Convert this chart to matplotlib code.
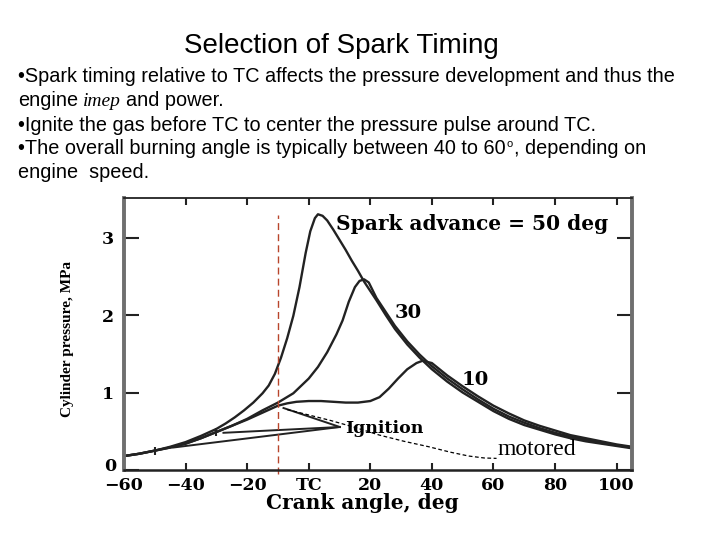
import numpy as np
import matplotlib
matplotlib.use("Agg")
import matplotlib.pyplot as plt
from matplotlib.transforms import ScaledTranslation

# crank angle (deg) and cylinder pressure (MPa)
ca_50 = [-60, -55, -50, -45, -40, -35, -30, -27, -24, -21, -18, -15, -13, -11, -9, -7, -5, -3, -1,
         0.5, 2, 3, 4.5, 6, 8, 10, 12, 14, 16, 18, 20, 22, 25, 28, 32, 36, 40, 45, 50, 55, 60, 65,
         70, 75, 80, 85, 90, 95, 100, 105]
p_50 = [0.18, 0.21, 0.25, 0.30, 0.36, 0.44, 0.53, 0.60, 0.68, 0.77, 0.87, 0.99, 1.09, 1.24, 1.45,
        1.70, 1.99, 2.36, 2.80, 3.08, 3.25, 3.30, 3.28, 3.22, 3.10, 2.97, 2.84, 2.70, 2.57, 2.43,
        2.31, 2.19, 2.00, 1.82, 1.62, 1.45, 1.30, 1.14, 1.00, 0.88, 0.76, 0.66, 0.58, 0.52, 0.46,
        0.41, 0.37, 0.34, 0.31, 0.28]

ca_30 = [-60, -55, -50, -45, -40, -35, -30, -25, -20, -15, -10, -5, 0, 3, 6, 9, 11, 13, 15, 16.5,
         18, 19.5, 22, 25, 28, 32, 36, 40, 45, 50, 55, 60, 65, 70, 75, 80, 85, 90, 95, 100, 105]
p_30 = [0.18, 0.21, 0.25, 0.29, 0.34, 0.41, 0.49, 0.57, 0.66, 0.77, 0.87, 0.99, 1.18, 1.33, 1.52,
        1.75, 1.93, 2.17, 2.36, 2.44, 2.46, 2.42, 2.22, 2.04, 1.86, 1.66, 1.49, 1.34, 1.18, 1.04,
        0.91, 0.79, 0.69, 0.61, 0.54, 0.48, 0.43, 0.39, 0.35, 0.32, 0.29]

ca_10 = [-60, -55, -50, -45, -40, -35, -30, -25, -20, -15, -10, -7, -4, 0, 4, 8, 12, 16, 20, 23,
         26, 29, 32, 35, 37, 40, 45, 50, 55, 60, 65, 70, 75, 80, 85, 90, 95, 100, 105]
p_10 = [0.18, 0.21, 0.25, 0.29, 0.34, 0.41, 0.49, 0.57, 0.65, 0.74, 0.83, 0.86, 0.88, 0.89, 0.89,
        0.88, 0.87, 0.87, 0.89, 0.94, 1.05, 1.18, 1.30, 1.38, 1.41, 1.38, 1.22, 1.08, 0.95, 0.83,
        0.73, 0.64, 0.57, 0.51, 0.45, 0.41, 0.37, 0.33, 0.30]

# ignition points
ign_ca = [-50, -30, -10]
ign_p = [0.25, 0.49, 0.83]
# pointer line ends (from the "Ignition" label)
ptr_ca = [-44, -27.7, -8.2]
ptr_p = [0.29, 0.48, 0.80]
ptr_from = (10.1, 0.555)

# hand-drawn dashed "motored" line
mot_ca = [-7, 0, 7, 15, 23, 31, 39, 46, 52, 57, 61]
mot_p = [0.78, 0.71, 0.64, 0.55, 0.45, 0.37, 0.30, 0.23, 0.18, 0.155, 0.15]

xticks = [-60, -40, -20, 0, 20, 40, 60, 80, 100]
xlabels = ["\u221260", "\u221240", "\u221220", "TC", "20", "40", "60", "80", "100"]
yticks = [0, 1, 2, 3]

W, H = 720, 540
fig = plt.figure(figsize=(7.2, 5.4), dpi=100)
fig.patch.set_facecolor("white")

# ---- slide text ----
sans = "Liberation Sans"
fig.text(341 / W, 1 - 53 / H, "Selection of Spark Timing", ha="center", va="baseline",
         family=sans, fontsize=20)

renderer = fig.canvas.get_renderer()


def put_runs(x_px, base_px, parts):
    # parts: (text, kwargs, raise_px, gap_after_px)
    for s, kw, dy, gap in parts:
        t = fig.text(x_px / W, 1 - (base_px - dy) / H, s, ha="left", va="baseline", **kw)
        bb = t.get_window_extent(renderer)
        x_px = bb.x1 + gap


body = dict(family=sans, fontsize=14.3)
put_runs(18, 82, [("\u2022Spark timing relative to TC affects the pressure development and thus the",
                   body, 0, 0)])
put_runs(18, 106, [("engine", body, 0, 5),
                   ("imep", dict(family="Liberation Serif", style="italic", fontsize=14), 0, 5),
                   ("and power.", body, 0, 0)])
put_runs(18, 131, [("\u2022Ignite the gas before TC to center the pressure pulse around TC.",
                    body, 0, 0)])
put_runs(18, 154, [("\u2022The overall burning angle is typically between 40 to 60", body, 0, 1),
                   ("o", dict(family=sans, fontsize=8), 7, 1),
                   (", depending on", body, 0, 0)])
put_runs(18, 178, [("engine  speed.", body, 0, 0)])

# ---- chart ----
ax = fig.add_axes([124 / W, 1 - 470 / H, (632 - 124) / W, (470 - 198) / H])
ink = "#222222"
for ca, p in [(ca_50, p_50), (ca_30, p_30), (ca_10, p_10)]:
    ax.plot(ca, p, color=ink, lw=1.7, solid_capstyle="round", solid_joinstyle="round")

ax.plot(ign_ca[:2], ign_p[:2], ls="none", marker="|", ms=6, mew=1.5, color=ink)
for c, p in zip(ptr_ca, ptr_p):
    ax.plot([ptr_from[0], c], [ptr_from[1], p], color=ink, lw=1.4)

ax.plot([-10, -10], [-0.05, 3.29], color="#b8452c", lw=1.0, ls=(0, (5, 3)), clip_on=False)
ax.plot(mot_ca, mot_p, color="black", lw=0.9, ls=(0, (3, 2)))

cfont = dict(family="DejaVu Serif", fontweight="bold")
ax.text(8.8, 3.17, "Spark advance = 50 deg", va="center", ha="left", fontsize=14.5, **cfont)
ax.text(28, 2.03, "30", va="center", ha="left", fontsize=14, **cfont)
ax.text(49.6, 1.16, "10", va="center", ha="left", fontsize=14, **cfont)
ax.text(11.8, 0.54, "Ignition", va="center", ha="left", fontsize=12.5, **cfont)
ax.text(61.4, 0.19, "motored", va="baseline", ha="left", family="Liberation Serif", fontsize=17)

ax.set_xlim(-60, 105)
ax.set_ylim(0, 3.51)
ax.set_xticks(xticks)
ax.set_xticklabels(xlabels, fontsize=12.5, **cfont)
ax.set_yticks(yticks)
ax.set_yticklabels([str(v) for v in yticks], fontsize=12.5, **cfont)
ax.tick_params(axis="x", direction="in", length=5, width=1.5, top=True, pad=5, color=ink)
ax.tick_params(axis="y", direction="in", length=11, width=1.5, right=True, pad=7, color=ink)
# lift the "0" a little, as in the scan, so it clears "-60"
zero = ax.get_yticklabels()[0]
zero.set_transform(zero.get_transform() + ScaledTranslation(1.5 / 72, 4 / 72, fig.dpi_scale_trans))

for side in ["left", "right"]:
    ax.spines[side].set_linewidth(2.8)
    ax.spines[side].set_color("#6f6f6f")
ax.spines["bottom"].set_linewidth(1.8)
ax.spines["bottom"].set_color(ink)
ax.spines["top"].set_linewidth(1.3)
ax.spines["top"].set_color(ink)

ax.set_xlabel("Crank angle, deg", fontsize=14.5, **cfont)
ax.xaxis.set_label_coords(0.47, -0.085)
ax.set_ylabel("Cylinder pressure, MPa", fontsize=11, family="Liberation Serif", fontweight="bold")
ax.yaxis.set_label_coords(-0.098, 0.48)

fig.savefig("out.png", dpi=100, facecolor="white")
